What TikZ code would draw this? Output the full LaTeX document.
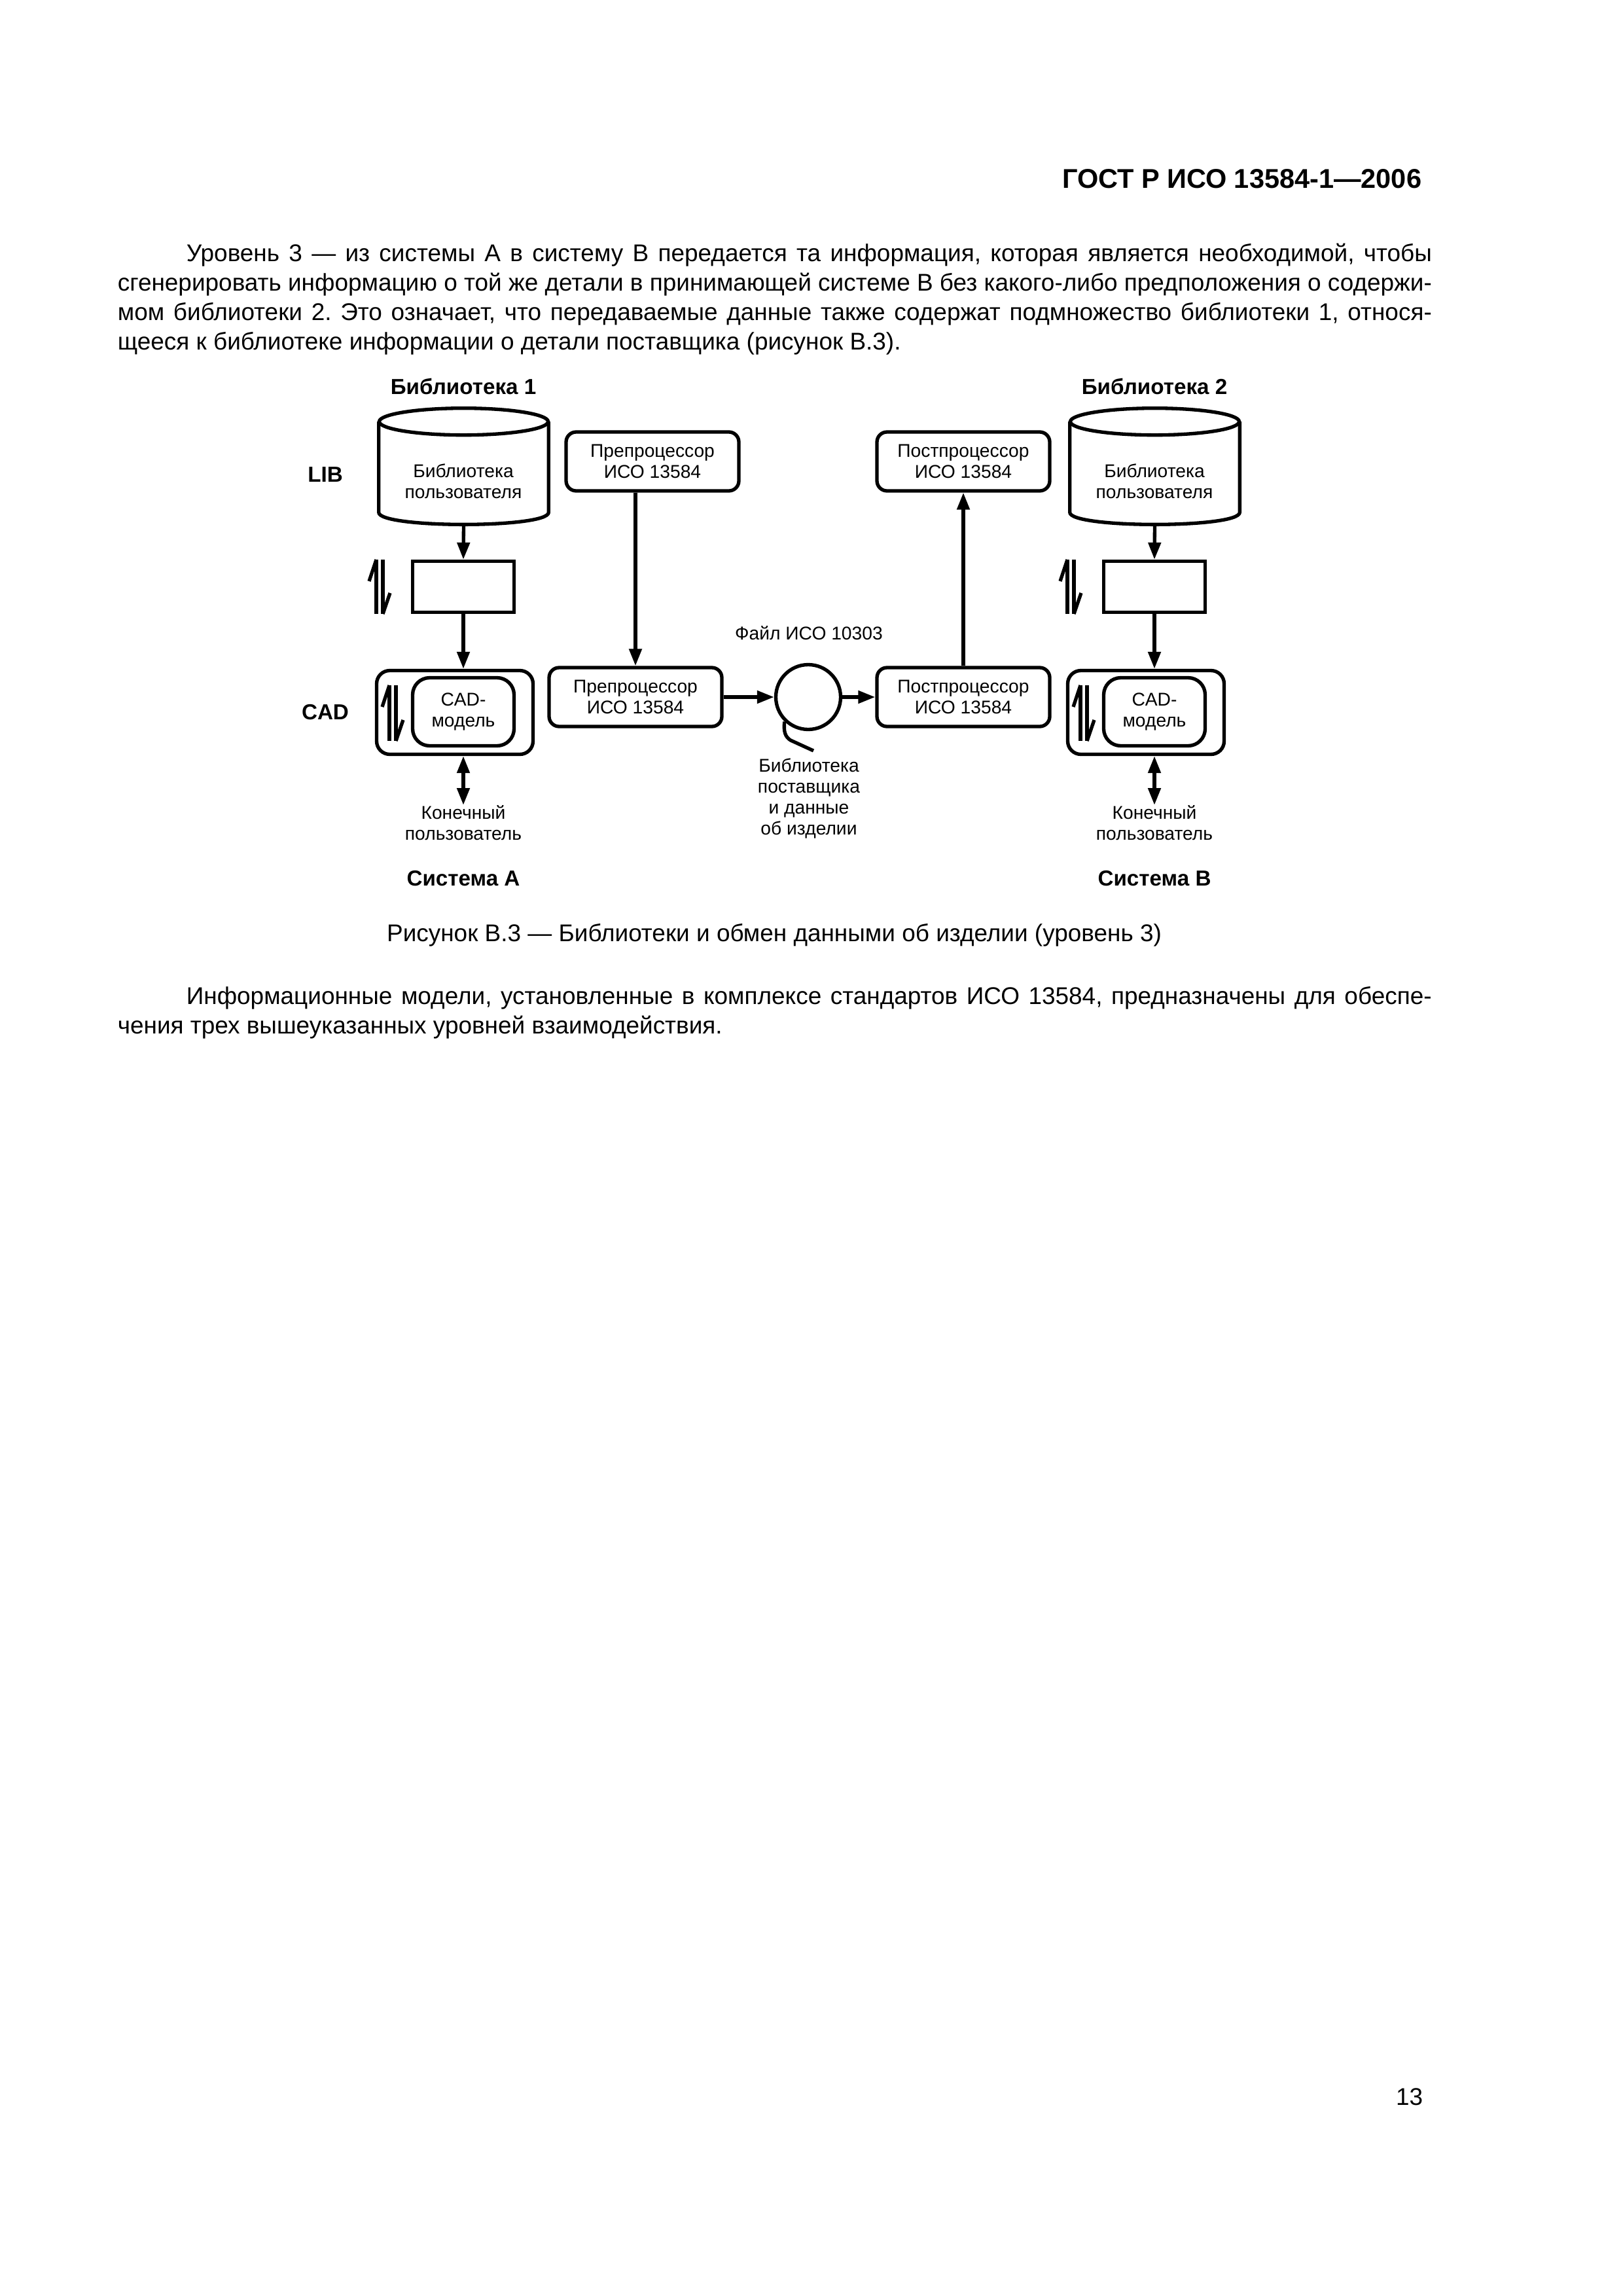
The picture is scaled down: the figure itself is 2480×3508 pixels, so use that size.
\documentclass[tikz,border=0pt]{standalone}
\usepackage{fontspec}
\setmainfont{Liberation Sans}
\usetikzlibrary{positioning,arrows.meta,calc}
\frenchspacing
\newdimen\pxu
\pxu=0.0846667mm
% database drum drawn round an empty node
\newcommand{\dbshape}[1]{%
  \draw[thk] ($(#1.north)+(0,20.5)$) ellipse [x radius=129\pxu, y radius=20.5\pxu];
  \draw[thk] ($(#1.north west)+(0,20.5)$) -- ($(#1.south west)+(0,-18.5)$)
    .. controls +(0,24.7) and +(0,24.7) .. ($(#1.south east)+(0,-18.5)$) -- ($(#1.north east)+(0,20.5)$);
}
% pair of harpoons: x of left stroke, top, bottom
\newcommand{\harp}[3]{%
  \draw[thk] (#1,#2) -- (#1,#3);
  \draw[thk] (#1-11,#2+33) -- (#1,#2);
  \draw[thk] (#1+10,#2) -- (#1+10,#3);
  \draw[thk] (#1+21,#3-32) -- (#1+10,#3);
}

\begin{document}
\begin{tikzpicture}[
  x=0.0846667mm, y=-0.0846667mm,
  body/.style={font=\fontsize{8.9}{10.8}\selectfont, inner sep=0pt},
  hdr/.style={font=\fontsize{10}{12}\selectfont\bfseries, inner sep=0pt},
  ttl/.style={font=\fontsize{8}{9.6}\selectfont\bfseries, inner sep=0pt},
  lbl/.style={font=\fontsize{6.8}{7.7}\selectfont, align=center, inner sep=0pt},
  thk/.style={line width=0.45mm},
  proc/.style={lbl, thk, draw, rounded corners=1.3mm, minimum width=264\pxu, minimum height=90\pxu},
  plain/.style={thk, draw, minimum width=155\pxu, minimum height=78\pxu},
  cadbox/.style={thk, draw, rounded corners=1.7mm, minimum width=239\pxu, minimum height=128\pxu},
  modbox/.style={lbl, thk, draw, rounded corners=2.2mm, minimum width=155\pxu, minimum height=104\pxu},
  dbs/.style={minimum width=258\pxu, minimum height=176\pxu, inner sep=0pt},
  disk/.style={thk, draw, circle, minimum size=99\pxu, inner sep=0pt},
  arr/.style={thk, -{Triangle[length=2.2mm,width=1.6mm]}},
  darr/.style={thk, {Triangle[length=2.2mm,width=1.6mm]}-{Triangle[length=2.2mm,width=1.6mm]}}
]
\useasboundingbox (0,0) rectangle (2480,3508);
\fill[white] (0,0) rectangle (2480,3508);

% page text
\node[hdr, anchor=base east] (head) at (2173,287) {ГОСТ Р ИСО 13584-1—2006};
\node[body, anchor=base west] (pa1) at (284,399) {\makebox[1903\pxu][s]{Уровень 3 — из системы А в систему В передается та информация, которая является необходимой, чтобы}};
\node[body, anchor=base west] (pa2) at (179,444) {\makebox[2008\pxu][s]{сгенерировать информацию о той же детали в принимающей системе В без какого-либо предположения о содержи-}};
\node[body, anchor=base west] (pa3) at (179,489) {\makebox[2008\pxu][s]{мом библиотеки 2. Это означает, что передаваемые данные также содержат подмножество библиотеки 1, относя-}};
\node[body, anchor=base west] (pa4) at (179,534) {щееся к библиотеке информации о детали поставщика (рисунок В.3).};
\node[body, anchor=base] (caption) at (1183,1438) {Рисунок В.3 — Библиотеки и обмен данными об изделии (уровень 3)};
\node[body, anchor=base west] (pb1) at (284,1534) {\makebox[1903\pxu][s]{Информационные модели, установленные в комплексе стандартов ИСО 13584, предназначены для обеспе-}};
\node[body, anchor=base west] (pb2) at (179,1579) {чения трех вышеуказанных уровней взаимодействия.};
\node[body, anchor=base east] (pagenum) at (2175,3216) {13};

% row labels and titles
\node[ttl] (libA) at (708,590) {Библиотека 1};
\node[ttl] (libB) at (1764,590) {Библиотека 2};
\node[ttl] (rowlib) at (497,725) {LIB};
\node[ttl] (rowcad) at (497,1088) {CAD};
\node[ttl] (sysA) at (708,1342) {Система А};
\node[ttl] (sysB) at (1764,1342) {Система В};

% system A
\node[dbs] (cylA) at (708.5,712.5) {};
\dbshape{cylA}
\node[lbl] (cylAtxt) at (708,735) {Библиотека\\пользователя};
\node[plain] (rectA) at (708,896.5) {};
\harp{575}{855}{938}
\node[cadbox] (cadA) at (695,1088.5) {};
\node[modbox] (modA) at (708,1087.5) {CAD-\\модель};
\harp{595}{1047}{1132}
\node[lbl, anchor=north] (userA) at (708,1230) {Конечный\\пользователь};

% system B
\node[dbs] (cylB) at (1764.5,712.5) {};
\dbshape{cylB}
\node[lbl] (cylBtxt) at (1764,735) {Библиотека\\пользователя};
\node[plain] (rectB) at (1764,896.5) {};
\harp{1631}{855}{938}
\node[cadbox] (cadB) at (1751,1088.5) {};
\node[modbox] (modB) at (1764,1087.5) {CAD-\\модель};
\harp{1651}{1047}{1132}
\node[lbl, anchor=north] (userB) at (1764,1230) {Конечный\\пользователь};

% exchange chain
\node[proc] (preTop) at (997,705) {Препроцессор\\ИСО 13584};
\node[proc] (preBot) at (971,1065) {Препроцессор\\ИСО 13584};
\node[disk] (file) at (1235,1065) {};
\node[proc] (postBot) at (1472,1065) {Постпроцессор\\ИСО 13584};
\node[proc] (postTop) at (1472,705) {Постпроцессор\\ИСО 13584};
\node[lbl] (filetxt) at (1236,967) {Файл ИСО 10303};
\node[lbl] (supplier) at (1236,1220) {Библиотека\\поставщика\\и данные\\об изделии};
\draw[thk] (file.226) .. controls (1197,1118) and (1200,1126) .. (1208,1131) -- (1243,1147);

% connectors
\draw[arr] (cylA.south) -- (rectA.north);
\draw[arr] (rectA.south) -- (rectA.south |- cadA.north);
\draw[darr] (modA.south |- cadA.south) -- (userA.north);
\draw[arr] (cylB.south) -- (rectB.north);
\draw[arr] (rectB.south) -- (rectB.south |- cadB.north);
\draw[darr] (modB.south |- cadB.south) -- (userB.north);
\draw[arr] (preBot.north |- preTop.south) -- (preBot.north);
\draw[arr] (preBot) -- (file);
\draw[arr] (file) -- (postBot);
\draw[arr] (postBot) -- (postTop);
\end{tikzpicture}
\end{document}
